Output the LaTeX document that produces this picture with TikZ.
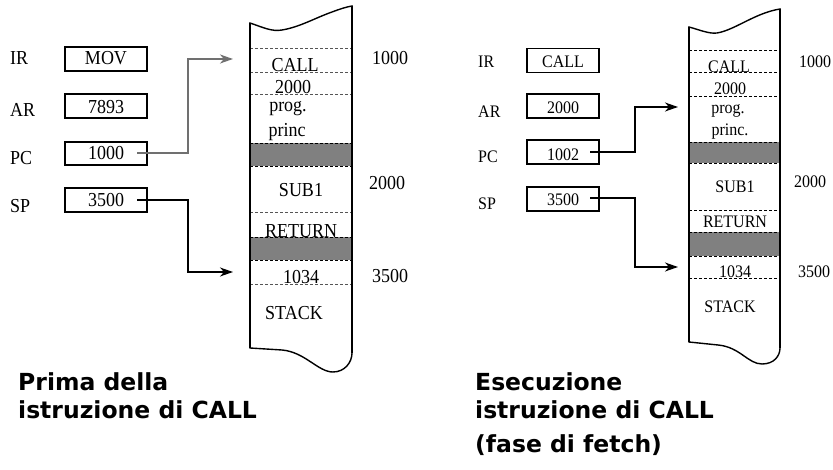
\documentclass[tikz,border=0pt]{standalone}
\usepackage{fontspec}
\setmainfont{Liberation Serif}
\newfontfamily\capfont{DejaVu Sans}
\usetikzlibrary{arrows.meta}
\newcommand\stt[1]{\scalebox{1}[1.1]{#1}}
\definecolor{bandgray}{HTML}{808080}
\definecolor{ptrgray}{HTML}{707070}
\definecolor{dashgray}{HTML}{555555}
\begin{document}
\begin{tikzpicture}[x=1pt,y=-1pt,
  tL/.style={font=\fontsize{18}{20}\selectfont, anchor=base, inner sep=0pt},
  tR/.style={font=\fontsize{16}{18}\selectfont, anchor=base, inner sep=0pt},
  lblL/.style={tL, anchor=base west},
  lblR/.style={tR, anchor=base west},
  regbox/.style={draw, line width=1.8pt, minimum height=#1, inner sep=0pt},
  col/.style={draw, line width=1.4pt, fill=white},
  sepL/.style={dashgray, line width=0.7pt, dash pattern=on 3pt off 2pt},
  sepR/.style={black, line width=0.9pt, dash pattern=on 3pt off 2pt},
  band/.style={fill=bandgray},
  ptrL/.style={ptrgray, line width=2pt, -{Stealth[length=13pt,width=9pt,inset=4pt]}},
  ptrB/.style={black, line width=1.2pt, -{Stealth[length=13pt,width=9pt,inset=4pt]}},
  captext/.style={font=\capfont\bfseries\fontsize{23.5}{28}\selectfont, anchor=base west, inner sep=0pt}
]
\useasboundingbox (0,0) rectangle (833,470);

% ===================== LEFT DIAGRAM =====================
\draw[col] (250,23) .. controls (262,27) and (272,32) .. (282,30)
  .. controls (300,27) and (315,18) .. (332,12)
  .. controls (340,9) and (346,7) .. (352,6)
  -- (352,353) .. controls (352,362) and (345,372) .. (333,372)
  .. controls (318,372) and (305,352) .. (282,350)
  -- (250,348) -- cycle;
\fill[band] (250,143) rectangle (352,166);
\fill[band] (250,237) rectangle (352,260);
\foreach \yy in {48,72,94,212,284} \draw[sepL] (250,\yy) -- (352,\yy);
\foreach \yy in {143,166,237,260} \draw[sepR] (250,\yy) -- (352,\yy);
\draw[line width=1.4pt] (250,23) -- (250,348) (352,6) -- (352,353);

\node[tL] (mcallL)  at (295,72)  {\stt{CALL}};
\node[tL] (m2000L)  at (293,93.5) {\stt{2000}};
\node[tL] (mprogL)  at (288,112) {\stt{prog.}};
\node[tL] (mprincL) at (287,137) {\stt{princ}};
\node[tL] (msubL)   at (301,197) {\stt{SUB1}};
\node[tL] (mretL)   at (301,238) {\stt{RETURN}};
\node[tL] (m1034L)  at (301,284) {\stt{1034}};
\node[tL] (mstackL) at (294,320) {\stt{STACK}};

\node[tL] (a1000L) at (390,65)  {\stt{1000}};
\node[tL] (a2000L) at (387,190) {\stt{2000}};
\node[tL] (a3500L) at (390,283) {\stt{3500}};

\node[lblL] (irL) at (10,65)  {\stt{IR}};
\node[lblL] (arL) at (10,117) {\stt{AR}};
\node[lblL] (pcL) at (10,165) {\stt{PC}};
\node[lblL] (spL) at (10,213) {\stt{SP}};

\node[regbox=24pt, minimum width=82pt] (bIRL) at (106,59)  {};
\node[regbox=24pt, minimum width=82pt] (bARL) at (106,106) {};
\node[regbox=23pt, minimum width=82pt] (bPCL) at (106,153.5) {};
\node[regbox=24pt, minimum width=82pt] (bSPL) at (106,200) {};

\node[tL] (vIRL) at (106,65)  {\stt{MOV}};
\node[tL] (vARL) at (106,114) {\stt{7893}};
\node[tL] (vPCL) at (106,160) {\stt{1000}};
\node[tL] (vSPL) at (106,207) {\stt{3500}};

\coordinate (pcLs) at (137,153);
\coordinate (pcLm) at (188,153);
\coordinate (pcLt) at (233,59);
\coordinate (spLs) at (137,200);
\coordinate (spLm) at (188,200);
\coordinate (spLt) at (233,272);
\draw[ptrL] (pcLs) -- (pcLm) |- (pcLt);
\draw[ptrB] (spLs) -- (spLm) |- (spLt);

\node[captext] (capL1) at (18,390) {Prima della};
\node[captext] (capL2) at (18,418) {istruzione di CALL};

% ===================== RIGHT DIAGRAM =====================
\draw[col] (689,27) .. controls (700,30) and (709,34) .. (717,33)
  .. controls (735,30) and (755,13) .. (780,9)
  -- (780,348) .. controls (780,356) and (774,364) .. (762,364)
  .. controls (748,364) and (740,347) .. (718,345)
  -- (689,342) -- cycle;
\fill[band] (689,142) rectangle (780,163);
\fill[band] (689,232) rectangle (780,256);
\foreach \yy in {50,72,96,210,278} \draw[sepR] (689,\yy) -- (780,\yy);
\foreach \yy in {142,163,232,256} \draw[sepR] (689,\yy) -- (780,\yy);
\draw[line width=1.4pt] (689,27) -- (689,342) (780,9) -- (780,348);

\node[tR] (mcallR)  at (729,73)  {\stt{CALL}};
\node[tR] (m2000R)  at (730,94.5) {\stt{2000}};
\node[tR] (mprogR)  at (728,114) {\stt{prog.}};
\node[tR] (mprincR) at (730,136) {\stt{princ.}};
\node[tR] (msubR)   at (735,193) {\stt{SUB1}};
\node[tR] (mretR)   at (735,228) {\stt{RETURN}};
\node[tR] (m1034R)  at (735,278) {\stt{1034}};
\node[tR] (mstackR) at (730,313) {\stt{STACK}};

\node[tR] (a1000R) at (815,68)  {\stt{1000}};
\node[tR] (a2000R) at (810,188) {\stt{2000}};
\node[tR] (a3500R) at (814,278) {\stt{3500}};

\node[lblR] (irR) at (478,68)  {\stt{IR}};
\node[lblR] (arR) at (478,118) {\stt{AR}};
\node[lblR] (pcR) at (478,163) {\stt{PC}};
\node[lblR] (spR) at (478,210) {\stt{SP}};

\node[regbox=24pt, minimum width=72pt] (bIRR) at (563,60.5) {};
\node[regbox=24pt, minimum width=72pt] (bARR) at (563,106)  {};
\node[regbox=24pt, minimum width=72pt] (bPCR) at (563,152)  {};
\node[regbox=24pt, minimum width=72pt] (bSPR) at (563,199)  {};

\node[tR] (vIRR) at (563,68)  {\stt{CALL}};
\node[tR] (vARR) at (563,114) {\stt{2000}};
\node[tR] (vPCR) at (563,161) {\stt{1002}};
\node[tR] (vSPR) at (563,206) {\stt{3500}};

\coordinate (pcRs) at (590,152);
\coordinate (pcRm) at (635,152);
\coordinate (pcRt) at (678,107);
\coordinate (spRs) at (590,198);
\coordinate (spRm) at (635,198);
\coordinate (spRt) at (678,267);
\draw[ptrB] (pcRs) -- (pcRm) |- (pcRt);
\draw[ptrB] (spRs) -- (spRm) |- (spRt);

\node[captext] (capR1) at (475,390) {Esecuzione};
\node[captext] (capR2) at (475,418) {istruzione di CALL};
\node[captext] (capR3) at (475,452) {(fase di fetch)};
\end{tikzpicture}
\end{document}
